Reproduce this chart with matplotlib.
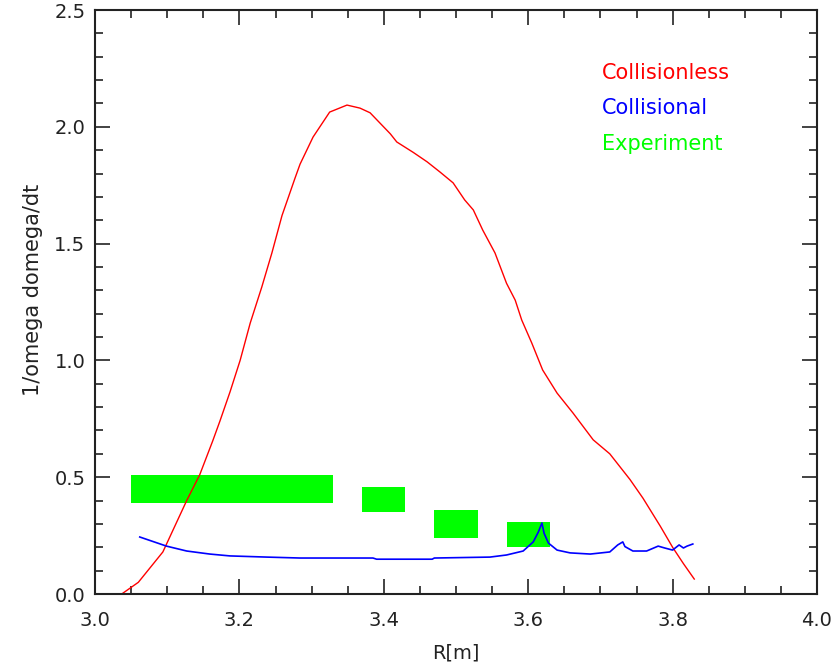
import matplotlib
matplotlib.use('Agg')
import matplotlib.pyplot as plt
from matplotlib.ticker import MultipleLocator

# collisionless growth rate (red)
r_less = [3.037, 3.060, 3.094, 3.127, 3.145, 3.163, 3.173, 3.187, 3.201, 3.215,
          3.231, 3.245, 3.259, 3.268, 3.277, 3.284, 3.302, 3.325, 3.349, 3.367,
          3.381, 3.409, 3.418, 3.441, 3.460, 3.478, 3.496, 3.512, 3.524, 3.537,
          3.554, 3.570, 3.582, 3.591, 3.605, 3.620, 3.640, 3.662, 3.690, 3.713,
          3.741, 3.759, 3.783, 3.800, 3.815, 3.830]
g_less = [0.0, 0.05, 0.18, 0.40, 0.51, 0.655, 0.74, 0.865, 1.00, 1.16,
          1.314, 1.46, 1.62, 1.70, 1.78, 1.84, 1.956, 2.063, 2.093, 2.08,
          2.06, 1.97, 1.935, 1.89, 1.85, 1.806, 1.76, 1.687, 1.644, 1.558,
          1.46, 1.33, 1.258, 1.173, 1.074, 0.959, 0.86, 0.775, 0.66, 0.60,
          0.49, 0.41, 0.29, 0.20, 0.13, 0.064]

# collisional growth rate (blue)
r_coll = [3.062, 3.099, 3.127, 3.159, 3.187, 3.238, 3.284, 3.385, 3.390, 3.467,
          3.470, 3.547, 3.570, 3.593, 3.607, 3.614, 3.619, 3.622, 3.628, 3.640,
          3.658, 3.686, 3.713, 3.724, 3.731, 3.734, 3.745, 3.764, 3.780, 3.789,
          3.800, 3.809, 3.815, 3.820, 3.828]
g_coll = [0.244, 0.205, 0.184, 0.171, 0.163, 0.158, 0.154, 0.154, 0.149, 0.149,
          0.154, 0.158, 0.167, 0.184, 0.223, 0.265, 0.304, 0.26, 0.218, 0.188,
          0.176, 0.171, 0.18, 0.21, 0.223, 0.203, 0.184, 0.184, 0.205, 0.197,
          0.188, 0.21, 0.197, 0.205, 0.214]

# experimental ranges (green boxes)
exp_r_lo = [3.05, 3.37, 3.47, 3.57]
exp_r_hi = [3.33, 3.43, 3.53, 3.63]
exp_g_lo = [0.39, 0.35, 0.24, 0.20]
exp_g_hi = [0.51, 0.46, 0.36, 0.31]

fig = plt.figure(figsize=(8.36, 6.64), dpi=100)
ax = fig.add_axes([95/836, 1 - 594/664, 722/836, 584/664])

widths = [h - l for l, h in zip(exp_r_lo, exp_r_hi)]
heights = [h - l for l, h in zip(exp_g_lo, exp_g_hi)]
ax.bar(exp_r_lo, heights, width=widths, bottom=exp_g_lo, align='edge',
       color='#00ff00', edgecolor='none', zorder=1)
ax.plot(r_less, g_less, color='#ff0000', lw=1.0, zorder=2)
ax.plot(r_coll, g_coll, color='#0000ff', lw=1.2, zorder=2)

ax.set_xlim(3.0, 4.0)
ax.set_ylim(0.0, 2.5)
ax.xaxis.set_major_locator(MultipleLocator(0.2))
ax.xaxis.set_minor_locator(MultipleLocator(0.05))
ax.yaxis.set_major_locator(MultipleLocator(0.5))
ax.yaxis.set_minor_locator(MultipleLocator(0.1))
ax.xaxis.set_major_formatter(plt.FormatStrFormatter('%.1f'))
ax.yaxis.set_major_formatter(plt.FormatStrFormatter('%.1f'))
ax.tick_params(which='both', direction='in', top=True, right=True,
               width=1.2, color='#222222', labelsize=14, labelcolor='#222222')
ax.tick_params(which='major', length=11)
ax.tick_params(which='minor', length=6)
ax.tick_params(axis='x', pad=12)
ax.tick_params(axis='y', pad=7)
for s in ax.spines.values():
    s.set_linewidth(1.5)
    s.set_color('#222222')

ax.set_xlabel('R[m]', fontsize=14, color='#222222', labelpad=10)
ax.set_ylabel('1/omega domega/dt', fontsize=15, color='#222222')
ax.yaxis.set_label_coords(-0.072, 0.52)

# legend-style labels, pixel coords from the top of the figure
ax.text(602, 664 - 73, 'Collisionless', color='#ff0000', fontsize=15,
        transform=None, va='center')
ax.text(602, 664 - 108, 'Collisional', color='#0000ff', fontsize=15,
        transform=None, va='center')
ax.text(602, 664 - 144, 'Experiment', color='#00ff00', fontsize=15,
        transform=None, va='center')

fig.savefig('out.png', dpi=100)
